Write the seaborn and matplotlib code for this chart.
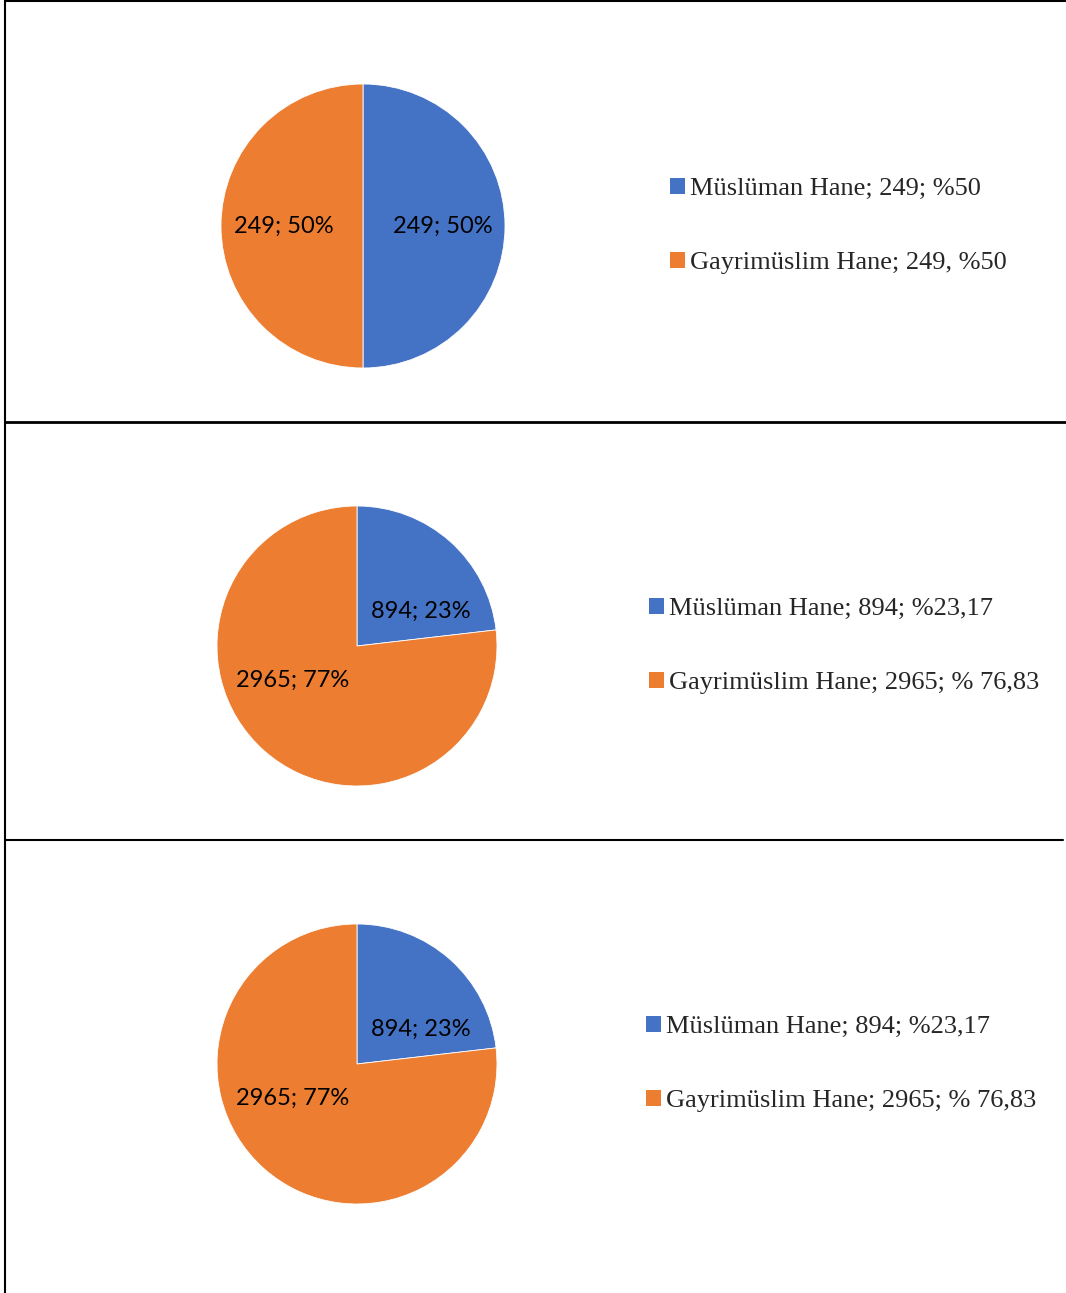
#!/usr/bin/env python3
"""
Three pie panels: Müslüman vs Gayrimüslim hane counts
"""

import matplotlib
matplotlib.use('Agg')
import matplotlib.pyplot as plt
import numpy as np
import seaborn as sns
from matplotlib.lines import Line2D
from matplotlib.patches import Patch

# Data per panel
categories = ['Müslüman Hane', 'Gayrimüslim Hane']
panel1_values = [249, 249]
panel2_values = [894, 2965]
panel3_values = [894, 2965]

panel1_legend = ['Müslüman Hane; 249; %50', 'Gayrimüslim Hane; 249, %50']
panel2_legend = ['Müslüman Hane; 894; %23,17', 'Gayrimüslim Hane; 2965; % 76,83']
panel3_legend = ['Müslüman Hane; 894; %23,17', 'Gayrimüslim Hane; 2965; % 76,83']

W, H = 1066, 1293


def fig_box(cx, cy, r):
    # pixel centre/radius (from top-left) -> figure fraction rect
    return [(cx - r) / W, (H - cy - r) / H, 2 * r / W, 2 * r / H]


def main():
    sns.set_theme(style='white')
    colors = ['#4472C4', '#ED7D31']

    fig = plt.figure(figsize=(W / 100, H / 100), dpi=100)
    fig.patch.set_facecolor('white')

    # (values, legend labels, pie centre/radius px, legend anchor px, label rotation deg)
    panels = [
        (panel1_values, panel1_legend, (363, 226, 142), (670, 226), 0),
        (panel2_values, panel2_legend, (357, 646, 140), (649, 646), -20),
        (panel3_values, panel3_legend, (357, 1064, 140), (646, 1064), -20),
    ]

    for values, leg_labels, (cx, cy, r), (lx, ly), rot in panels:
        ax = fig.add_axes(fig_box(cx, cy, r))
        total = sum(values)
        wedges, _ = ax.pie(values, colors=colors, startangle=90, counterclock=False,
                           radius=1.0, wedgeprops=dict(linewidth=0.6, edgecolor='white'))
        ax.set_xlim(-1, 1)
        ax.set_ylim(-1, 1)
        ax.set_aspect('equal')

        d = 0.56 if rot == 0 else 0.52
        for w, v in zip(wedges, values):
            mid = np.deg2rad((w.theta1 + w.theta2) / 2 + rot)
            ax.text(d * np.cos(mid), d * np.sin(mid),
                    f'{v}; {round(100 * v / total)}%',
                    ha='center', va='center', fontsize=17, family='Lato', color='black')

        handles = [Patch(facecolor=c, edgecolor='none') for c in colors]
        fig.legend(handles, leg_labels, loc='center left',
                   bbox_to_anchor=(lx / W, 1 - ly / H), frameon=False,
                   prop={'family': 'Liberation Serif', 'size': 19},
                   handlelength=0.55, handleheight=0.55, handletextpad=0.2,
                   labelspacing=1.95, borderpad=0, borderaxespad=0)

    # table-like frame lines
    def hline(y, x0, x1, lw):
        fig.add_artist(Line2D([x0 / W, x1 / W], [1 - y / H, 1 - y / H],
                              color='black', linewidth=lw, transform=fig.transFigure))

    fig.add_artist(Line2D([5 / W, 5 / W], [0, 1], color='black', linewidth=1.5,
                          transform=fig.transFigure))
    hline(1, 5, W, 1.5)
    hline(422, 5, W, 2.0)
    hline(840, 5, 1063, 1.5)

    fig.savefig('out.png', dpi=100, facecolor='white')
    plt.close(fig)


if __name__ == "__main__":
    main()
